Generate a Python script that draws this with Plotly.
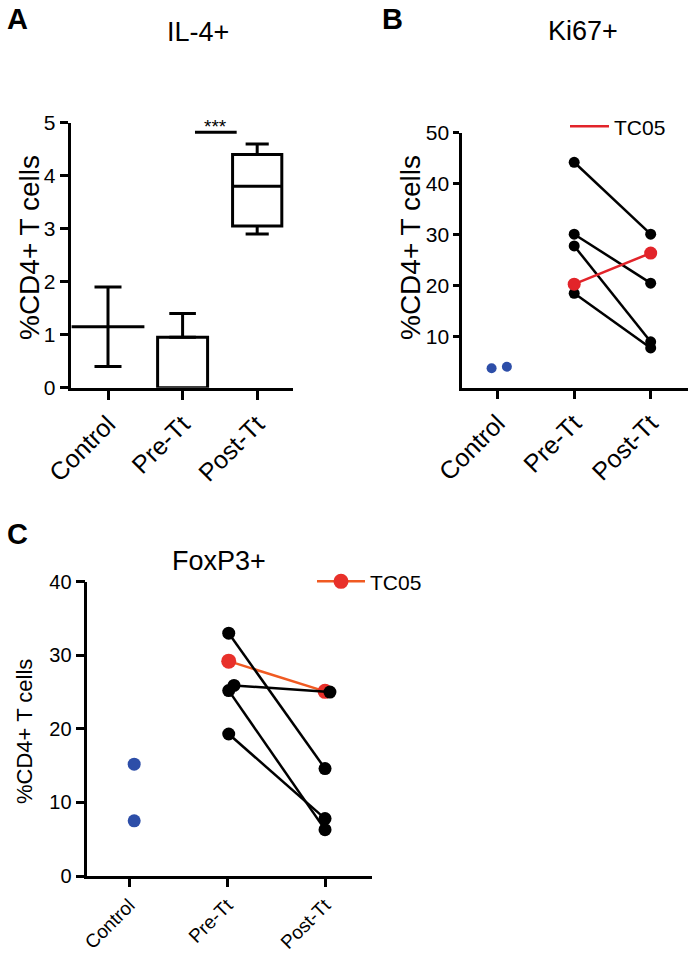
import plotly.graph_objects as go

W, H = 694, 955
OFF = 0
FONT = "Liberation Sans, Arial, Helvetica, sans-serif"

categories = ["Control", "Pre-Tt", "Post-Tt"]

# ---- Panel A: IL-4+ ----
il4_control_mean = 1.15
il4_control_low = 0.4
il4_control_high = 1.9
il4_pre_bar = 0.95
il4_pre_err_up = 1.4
il4_post_box = dict(lowerfence=2.9, q1=3.05, median=3.8, q3=4.4, upperfence=4.6)
il4_sig_x = [1.166, 1.725]
il4_sig_y = 4.82
il4_sig_text = "***"

# ---- Panel B: Ki67+ ----
ki67_control = [3.8, 4.1]
ki67_control_jitter = [-0.08, 0.12]
ki67_pre = [44.2, 30.1, 27.8, 18.5]
ki67_post = [30.1, 20.5, 9.0, 7.8]
ki67_tc05 = [20.3, 26.4]

# ---- Panel C: FoxP3+ ----
foxp3_control = [15.2, 7.5]
foxp3_control_jitter = [0.05, 0.05]
foxp3_pre = [33.0, 25.9, 25.2, 19.3]
foxp3_post = [14.6, 25.0, 6.3, 7.8]
foxp3_pre_jitter = [0.016, 0.07, 0.016, 0.016]
foxp3_post_jitter = [0.0, 0.05, 0.0, 0.0]
foxp3_tc05 = [29.2, 25.1]

BLUE = "#2d4ea8"
RED = "#e2242a"
ORANGE = "#f05a22"

def px(x):
    return (x - OFF) / W

def py(y):
    return 1 - (y - OFF) / H

fig = go.Figure()

# Panel A traces
fig.add_trace(go.Scatter(
    x=[0], y=[il4_control_mean], mode="markers",
    marker=dict(symbol="line-ew", size=52, color="black", line=dict(color="black", width=3)),
    error_y=dict(type="data", symmetric=False,
                 array=[il4_control_high - il4_control_mean],
                 arrayminus=[il4_control_mean - il4_control_low],
                 width=13.5, thickness=3, color="black"),
    showlegend=False, xaxis="x", yaxis="y", cliponaxis=False))
fig.add_trace(go.Bar(
    x=[1], y=[il4_pre_bar], width=0.67,
    marker=dict(color="white", line=dict(color="black", width=3)),
    error_y=dict(type="data", symmetric=False, array=[il4_pre_err_up - il4_pre_bar],
                 arrayminus=[0], width=13.3, thickness=3, color="black"),
    showlegend=False, xaxis="x", yaxis="y"))
fig.add_trace(go.Box(
    x=[2], q1=[il4_post_box["q1"]], median=[il4_post_box["median"]], q3=[il4_post_box["q3"]],
    lowerfence=[il4_post_box["lowerfence"]], upperfence=[il4_post_box["upperfence"]],
    width=0.66, whiskerwidth=0.47, fillcolor="white", boxpoints=False,
    line=dict(color="black", width=3), showlegend=False, xaxis="x", yaxis="y"))
fig.add_trace(go.Scatter(
    x=il4_sig_x, y=[il4_sig_y, il4_sig_y], mode="lines",
    line=dict(color="black", width=3), showlegend=False, xaxis="x", yaxis="y"))

# Panel B traces
for a, b in zip(ki67_pre, ki67_post):
    fig.add_trace(go.Scatter(
        x=[1, 2], y=[a, b], mode="lines+markers",
        line=dict(color="black", width=2.5), marker=dict(color="black", size=11),
        showlegend=False, xaxis="x2", yaxis="y2"))
fig.add_trace(go.Scatter(
    x=ki67_control_jitter, y=ki67_control, mode="markers",
    marker=dict(color=BLUE, size=10), showlegend=False, xaxis="x2", yaxis="y2"))
fig.add_trace(go.Scatter(
    x=[1, 2], y=ki67_tc05, mode="lines+markers", name="TC05",
    line=dict(color=RED, width=2.5), marker=dict(color=RED, size=13),
    showlegend=False, xaxis="x2", yaxis="y2"))
# legend entry for panel B (line only)
fig.add_trace(go.Scatter(
    x=[None], y=[None], mode="lines", name="TC05",
    line=dict(color=RED, width=2.5),
    showlegend=True, legend="legend", xaxis="x2", yaxis="y2"))

# Panel C traces
fig.add_trace(go.Scatter(
    x=[1 + foxp3_pre_jitter[0], 2], y=foxp3_tc05, mode="lines+markers", name="TC05",
    line=dict(color=ORANGE, width=2.5), marker=dict(color="#e8302a", size=15),
    showlegend=True, legend="legend2", xaxis="x3", yaxis="y3"))
for a, b, ja, jb in zip(foxp3_pre, foxp3_post, foxp3_pre_jitter, foxp3_post_jitter):
    fig.add_trace(go.Scatter(
        x=[1 + ja, 2 + jb], y=[a, b], mode="lines+markers",
        line=dict(color="black", width=2.5), marker=dict(color="black", size=13),
        showlegend=False, xaxis="x3", yaxis="y3"))
fig.add_trace(go.Scatter(
    x=foxp3_control_jitter, y=foxp3_control, mode="markers",
    marker=dict(color=BLUE, size=13), showlegend=False, xaxis="x3", yaxis="y3"))

def xax(domain, rng, anchor, fs, lw, tl):
    return dict(domain=domain, range=rng, anchor=anchor, tickmode="array",
                tickvals=[0, 1, 2], ticktext=categories, tickangle=-45,
                showline=True, linecolor="black", linewidth=lw, ticks="outside",
                ticklen=tl, tickwidth=lw, tickcolor="black", showgrid=False,
                zeroline=False, automargin=False,
                tickfont=dict(family=FONT, size=fs, color="black"))

def yax(domain, rng, anchor, tv, fs, lw, tl):
    return dict(domain=domain, range=rng, anchor=anchor, tickmode="array",
                tickvals=tv, showline=True, linecolor="black", linewidth=lw,
                ticks="outside", ticklen=tl, tickwidth=lw, tickcolor="black",
                showgrid=False, zeroline=False, automargin=False,
                tickfont=dict(family=FONT, size=fs, color="black"))

annotations = [
    dict(text="<b>A</b>", x=px(17.5), y=1, yanchor="top", yshift=-1, font=dict(size=29)),
    dict(text="<b>B</b>", x=px(392.5), y=1, yanchor="top", yshift=-1, font=dict(size=29)),
    dict(text="<b>C</b>", x=px(17), y=py(534), font=dict(size=29)),
    dict(text="IL-4+", x=px(198), y=py(32), font=dict(size=27)),
    dict(text="Ki67+", x=px(583), y=py(31), font=dict(size=27)),
    dict(text="FoxP3+", x=px(219), y=py(561), font=dict(size=27)),
    dict(text="%CD4+ T cells", x=px(29), y=py(248), textangle=-90, font=dict(size=28)),
    dict(text="%CD4+ T cells", x=px(410), y=py(248), textangle=-90, font=dict(size=28)),
    dict(text="%CD4+ T cells", x=px(24), y=py(732), textangle=-90, font=dict(size=22)),
]
for a in annotations:
    a.setdefault("yanchor", "middle")
    a.update(xref="paper", yref="paper", showarrow=False, xanchor="center")
    a["font"].update(family=FONT, color="black")
annotations.append(dict(text=il4_sig_text, x=sum(il4_sig_x) / 2, y=il4_sig_y, xref="x", yref="y",
                        showarrow=False, yanchor="bottom", yshift=-7,
                        font=dict(family=FONT, size=19, color="black")))

fig.update_layout(
    template="none",
    width=W, height=H, margin=dict(l=0, r=0, t=0, b=0, autoexpand=False),
    paper_bgcolor="white", plot_bgcolor="white",
    font=dict(family=FONT, color="black"),
    xaxis=xax([px(70.7), px(293)], [-0.5, 2.48], "y", 25, 3, 9),
    yaxis=yax([py(387.7), py(122.7)], [0, 5], "x", [0, 1, 2, 3, 4, 5], 21, 3, 8),
    xaxis2=xax([px(462.3), px(688)], [-0.463, 2.488], "y2", 25, 3, 8),
    yaxis2=yax([py(387.7), py(132.7)], [0, 50], "x2", [10, 20, 30, 40, 50], 21, 3, 6),
    xaxis3=xax([px(87.3), px(372.3)], [-0.429, 2.483], "y3", 19, 2.5, 8),
    yaxis3=yax([py(876), py(581.7)], [0, 40], "x3", [0, 10, 20, 30, 40], 20, 2.5, 9),
    legend=dict(x=px(565), y=py(126.7), xanchor="left", yanchor="middle", itemwidth=39,
                bgcolor="rgba(0,0,0,0)", font=dict(family=FONT, size=21, color="black")),
    legend2=dict(x=px(312), y=py(581.7), xanchor="left", yanchor="middle", itemwidth=48,
                 bgcolor="rgba(0,0,0,0)", font=dict(family=FONT, size=21, color="black")),
    annotations=annotations,
)

fig.write_html("out.html", config={"displayModeBar": False},
               post_script="document.body.style.margin='0';document.body.style.overflow='hidden';")
